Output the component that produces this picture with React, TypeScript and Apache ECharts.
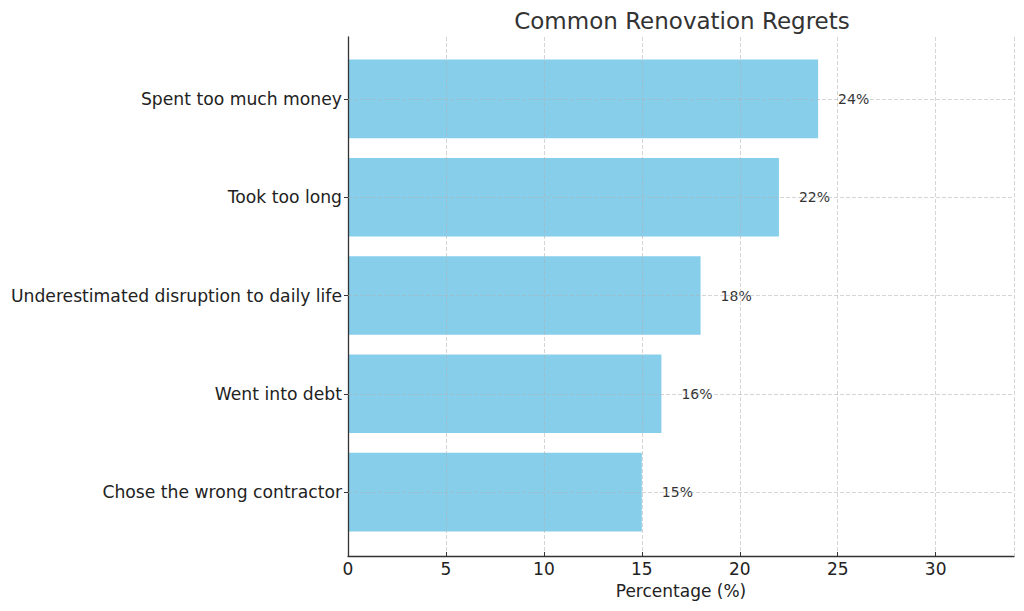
import React, { useEffect, useRef } from "react";
import * as echarts from "echarts";

const categories = [
  "Spent too much money",
  "Took too long",
  "Underestimated disruption to daily life",
  "Went into debt",
  "Chose the wrong contractor",
];
const percentages = [24, 22, 18, 16, 15];
const xTicks = { min: 0, max: 34, interval: 5 };
const titleText = "Common Renovation Regrets";
const xAxisName = "Percentage (%)";

const FONT = "DejaVu Sans";

export default function App() {
  const ref = useRef<HTMLDivElement>(null);
  useEffect(() => {
    if (!ref.current) return;
    const chart = echarts.init(ref.current, undefined, { renderer: "svg" });
    const gridLine = { color: "#b0b0b0", opacity: 0.6, width: 0.9, type: [4, 2] as number[] };
    chart.setOption({
      animation: false,
      backgroundColor: "#ffffff",
      title: {
        text: titleText,
        left: 677,
        top: 4,
        textAlign: "center",
        textStyle: { fontFamily: FONT, fontSize: 23, fontWeight: "normal", color: "#333333" },
      },
      grid: [
        { left: 348, right: 10, top: 37, bottom: 55, containLabel: false },
        { left: 348, right: 10, top: 49.75, bottom: 69.75, containLabel: false },
      ],
      xAxis: [
        {
          type: "value",
          gridIndex: 0,
          min: xTicks.min,
          max: xTicks.max,
          interval: xTicks.interval,
          z: 3,
          name: xAxisName,
          nameLocation: "middle",
          nameGap: 26,
          nameTextStyle: { fontFamily: FONT, fontSize: 17, color: "#222222" },
          axisLine: { show: true, lineStyle: { color: "#333333", width: 1.3 } },
          axisTick: { show: true, inside: true, length: 4, lineStyle: { color: "#333333" } },
          axisLabel: {
            fontFamily: FONT,
            fontSize: 17,
            color: "#222222",
            margin: 4,
            showMaxLabel: false,
            formatter: (v: number) => (v > 30 ? "" : String(v)),
          },
          splitLine: { show: true, lineStyle: gridLine },
        },
        {
          type: "value",
          gridIndex: 1,
          min: xTicks.min,
          max: xTicks.max,
          show: false,
        },
      ],
      yAxis: [
        {
          type: "value",
          gridIndex: 0,
          min: 0,
          max: 1,
          z: 3,
          axisLine: { show: true, lineStyle: { color: "#333333", width: 1.3 } },
          axisTick: { show: false },
          axisLabel: { show: false },
          splitLine: { show: false },
        },
        {
          type: "category",
          gridIndex: 1,
          data: categories,
          inverse: true,
          axisLine: { show: false },
          axisTick: { show: true, alignWithLabel: true, length: 4, lineStyle: { color: "#333333" } },
          axisLabel: {
            fontFamily: FONT,
            fontSize: 17.2,
            color: "#222222",
            margin: 6,
            padding: [3, 0, 0, 0],
          },
          splitLine: { show: false },
        },
      ],
      series: [
        {
          type: "bar",
          xAxisIndex: 1,
          yAxisIndex: 1,
          data: percentages,
          barWidth: "80%",
          itemStyle: { color: "#87CEEB" },
          label: {
            show: true,
            position: "right",
            distance: 20,
            formatter: (p: any) => `${p.value}%`,
            fontFamily: FONT,
            fontSize: 14,
            color: "#333333",
          },
          markLine: {
            silent: true,
            symbol: "none",
            z: 5,
            label: { show: false },
            lineStyle: gridLine,
            data: categories.map((c) => ({ yAxis: c })),
          },
        },
      ],
    });
    return () => chart.dispose();
  }, []);
  return (
    <div
      ref={ref}
      style={{ position: "fixed", left: 0, top: 0, width: 1024, height: 611 }}
    />
  );
}
